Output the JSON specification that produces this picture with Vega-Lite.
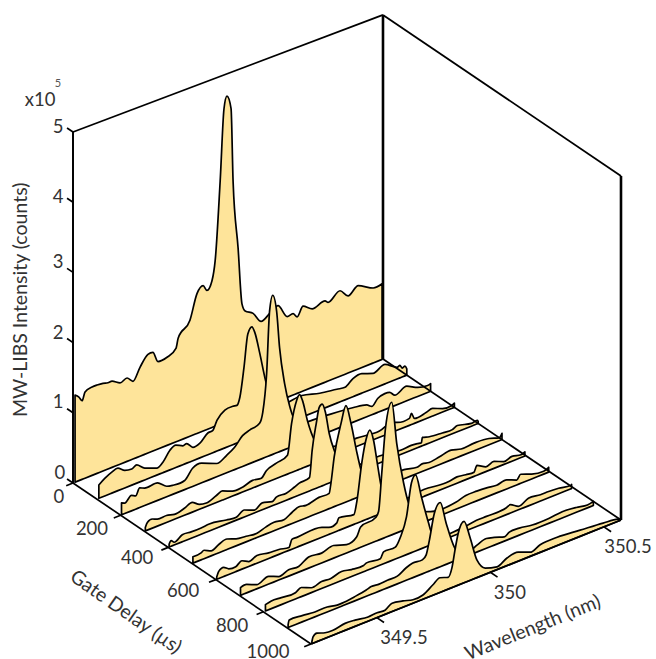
{"$schema":"https://vega.github.io/schema/vega-lite/v6.json","width":656,"height":659,"autosize":{"type":"none"},"padding":0,"background":"white","config":{"view":{"stroke":null}},
"datasets":{
"spectra":[
{"d":0,"w":349.219,"i":1.24},{"d":0,"w":349.236,"i":1.19},{"d":0,"w":349.25,"i":1.12},{"d":0,"w":349.263,"i":1.23},{"d":0,"w":349.294,"i":1.26},{"d":0,"w":349.316,"i":1.26},{"d":0,"w":349.342,"i":1.25},{"d":0,"w":349.364,"i":1.23},{"d":0,"w":349.382,"i":1.23},{"d":0,"w":349.417,"i":1.16},{"d":0,"w":349.448,"i":1.19},{"d":0,"w":349.474,"i":1.11},{"d":0,"w":349.505,"i":1.27},{"d":0,"w":349.54,"i":1.41},{"d":0,"w":349.562,"i":1.41},{"d":0,"w":349.584,"i":1.25},{"d":0,"w":349.624,"i":1.26},{"d":0,"w":349.664,"i":1.34},{"d":0,"w":349.673,"i":1.47},{"d":0,"w":349.725,"i":1.66},{"d":0,"w":349.756,"i":2.0},{"d":0,"w":349.783,"i":2.08},{"d":0,"w":349.8,"i":1.99},{"d":0,"w":349.822,"i":2.1},{"d":0,"w":349.836,"i":2.37},{"d":0,"w":349.858,"i":3.48},{"d":0,"w":349.875,"i":4.5},{"d":0,"w":349.888,"i":4.66},{"d":0,"w":349.906,"i":4.46},{"d":0,"w":349.915,"i":3.4},{"d":0,"w":349.937,"i":2.42},{"d":0,"w":349.954,"i":1.6},{"d":0,"w":349.968,"i":1.48},{"d":0,"w":350.003,"i":1.4},{"d":0,"w":350.038,"i":1.24},{"d":0,"w":350.078,"i":1.31},{"d":0,"w":350.113,"i":1.37},{"d":0,"w":350.153,"i":1.16},{"d":0,"w":350.179,"i":1.17},{"d":0,"w":350.197,"i":1.1},{"d":0,"w":350.223,"i":1.22},{"d":0,"w":350.263,"i":1.13},{"d":0,"w":350.32,"i":1.17},{"d":0,"w":350.333,"i":1.13},{"d":0,"w":350.386,"i":1.23},{"d":0,"w":350.421,"i":1.11},{"d":0,"w":350.466,"i":1.2},{"d":0,"w":350.532,"i":1.08},{"d":0,"w":350.571,"i":1.09},
{"d":100,"w":349.219,"i":0.19},{"d":100,"w":349.245,"i":0.25},{"d":100,"w":349.276,"i":0.3},{"d":100,"w":349.303,"i":0.32},{"d":100,"w":349.333,"i":0.25},{"d":100,"w":349.364,"i":0.23},{"d":100,"w":349.386,"i":0.26},{"d":100,"w":349.421,"i":0.17},{"d":100,"w":349.474,"i":0.1},{"d":100,"w":349.501,"i":0.15},{"d":100,"w":349.532,"i":0.28},{"d":100,"w":349.558,"i":0.32},{"d":100,"w":349.589,"i":0.27},{"d":100,"w":349.606,"i":0.28},{"d":100,"w":349.633,"i":0.19},{"d":100,"w":349.664,"i":0.21},{"d":100,"w":349.699,"i":0.31},{"d":100,"w":349.721,"i":0.32},{"d":100,"w":349.739,"i":0.44},{"d":100,"w":349.774,"i":0.54},{"d":100,"w":349.809,"i":0.55},{"d":100,"w":349.827,"i":0.54},{"d":100,"w":349.84,"i":0.64},{"d":100,"w":349.858,"i":1.04},{"d":100,"w":349.875,"i":1.5},{"d":100,"w":349.893,"i":1.58},{"d":100,"w":349.906,"i":1.48},{"d":100,"w":349.928,"i":1.15},{"d":100,"w":349.95,"i":0.78},{"d":100,"w":349.981,"i":0.41},{"d":100,"w":350.016,"i":0.3},{"d":100,"w":350.113,"i":0.31},{"d":100,"w":350.192,"i":0.24},{"d":100,"w":350.267,"i":0.2},{"d":100,"w":350.303,"i":0.18},{"d":100,"w":350.338,"i":0.26},{"d":100,"w":350.377,"i":0.28},{"d":100,"w":350.426,"i":0.22},{"d":100,"w":350.479,"i":0.28},{"d":100,"w":350.532,"i":0.17},{"d":100,"w":350.545,"i":0.18},{"d":100,"w":350.554,"i":0.13},{"d":100,"w":350.567,"i":0.14},{"d":100,"w":350.575,"i":0.09},
{"d":200,"w":349.214,"i":0.17},{"d":200,"w":349.228,"i":0.15},{"d":200,"w":349.258,"i":0.22},{"d":200,"w":349.276,"i":0.19},{"d":200,"w":349.294,"i":0.28},{"d":200,"w":349.316,"i":0.25},{"d":200,"w":349.373,"i":0.25},{"d":200,"w":349.413,"i":0.15},{"d":200,"w":349.439,"i":0.13},{"d":200,"w":349.492,"i":0.13},{"d":200,"w":349.527,"i":0.26},{"d":200,"w":349.567,"i":0.28},{"d":200,"w":349.633,"i":0.19},{"d":200,"w":349.677,"i":0.25},{"d":200,"w":349.712,"i":0.32},{"d":200,"w":349.747,"i":0.44},{"d":200,"w":349.778,"i":0.48},{"d":200,"w":349.822,"i":0.52},{"d":200,"w":349.836,"i":0.66},{"d":200,"w":349.853,"i":1.19},{"d":200,"w":349.866,"i":2.07},{"d":200,"w":349.88,"i":2.28},{"d":200,"w":349.897,"i":2.03},{"d":200,"w":349.91,"i":1.49},{"d":200,"w":349.932,"i":0.95},{"d":200,"w":349.954,"i":0.6},{"d":200,"w":349.968,"i":0.44},{"d":200,"w":349.999,"i":0.29},{"d":200,"w":350.087,"i":0.26},{"d":200,"w":350.232,"i":0.21},{"d":200,"w":350.294,"i":0.17},{"d":200,"w":350.316,"i":0.12},{"d":200,"w":350.342,"i":0.2},{"d":200,"w":350.373,"i":0.23},{"d":200,"w":350.395,"i":0.22},{"d":200,"w":350.417,"i":0.15},{"d":200,"w":350.47,"i":0.21},{"d":200,"w":350.518,"i":0.13},{"d":200,"w":350.562,"i":0.1},{"d":200,"w":350.575,"i":0.11},
{"d":300,"w":349.214,"i":0.05},{"d":300,"w":349.223,"i":0.11},{"d":300,"w":349.245,"i":0.13},{"d":300,"w":349.267,"i":0.1},{"d":300,"w":349.307,"i":0.1},{"d":300,"w":349.342,"i":0.07},{"d":300,"w":349.386,"i":0.1},{"d":300,"w":349.421,"i":0.14},{"d":300,"w":349.452,"i":0.07},{"d":300,"w":349.483,"i":0.05},{"d":300,"w":349.527,"i":0.1},{"d":300,"w":349.554,"i":0.13},{"d":300,"w":349.598,"i":0.07},{"d":300,"w":349.642,"i":0.07},{"d":300,"w":349.686,"i":0.11},{"d":300,"w":349.725,"i":0.09},{"d":300,"w":349.747,"i":0.17},{"d":300,"w":349.791,"i":0.22},{"d":300,"w":349.84,"i":0.27},{"d":300,"w":349.858,"i":0.7},{"d":300,"w":349.88,"i":1.0},{"d":300,"w":349.893,"i":1.07},{"d":300,"w":349.906,"i":0.97},{"d":300,"w":349.928,"i":0.65},{"d":300,"w":349.959,"i":0.33},{"d":300,"w":349.99,"i":0.19},{"d":300,"w":350.069,"i":0.11},{"d":300,"w":350.144,"i":0.12},{"d":300,"w":350.245,"i":0.09},{"d":300,"w":350.303,"i":0.14},{"d":300,"w":350.325,"i":0.11},{"d":300,"w":350.377,"i":0.1},{"d":300,"w":350.386,"i":0.16},{"d":300,"w":350.399,"i":0.07},{"d":300,"w":350.452,"i":0.09},{"d":300,"w":350.479,"i":0.11},{"d":300,"w":350.523,"i":0.05},{"d":300,"w":350.562,"i":0.04},{"d":300,"w":350.575,"i":0.06},
{"d":400,"w":349.214,"i":0.04},{"d":400,"w":349.223,"i":0.08},{"d":400,"w":349.236,"i":0.04},{"d":400,"w":349.272,"i":0.1},{"d":400,"w":349.311,"i":0.09},{"d":400,"w":349.355,"i":0.09},{"d":400,"w":349.391,"i":0.1},{"d":400,"w":349.466,"i":0.06},{"d":400,"w":349.51,"i":0.04},{"d":400,"w":349.545,"i":0.1},{"d":400,"w":349.589,"i":0.04},{"d":400,"w":349.624,"i":0.1},{"d":400,"w":349.668,"i":0.06},{"d":400,"w":349.686,"i":0.1},{"d":400,"w":349.73,"i":0.1},{"d":400,"w":349.765,"i":0.14},{"d":400,"w":349.787,"i":0.17},{"d":400,"w":349.832,"i":0.19},{"d":400,"w":349.844,"i":0.57},{"d":400,"w":349.862,"i":0.93},{"d":400,"w":349.875,"i":1.14},{"d":400,"w":349.888,"i":1.17},{"d":400,"w":349.902,"i":1.04},{"d":400,"w":349.919,"i":0.71},{"d":400,"w":349.946,"i":0.39},{"d":400,"w":349.977,"i":0.11},{"d":400,"w":350.051,"i":0.09},{"d":400,"w":350.14,"i":0.1},{"d":400,"w":350.236,"i":0.06},{"d":400,"w":350.28,"i":0.07},{"d":400,"w":350.307,"i":0.06},{"d":400,"w":350.325,"i":0.05},{"d":400,"w":350.329,"i":0.12},{"d":400,"w":350.36,"i":0.09},{"d":400,"w":350.417,"i":0.07},{"d":400,"w":350.461,"i":0.06},{"d":400,"w":350.483,"i":0.09},{"d":400,"w":350.545,"i":0.04},{"d":400,"w":350.571,"i":0.05},{"d":400,"w":350.575,"i":0.03},
{"d":500,"w":349.214,"i":0.09},{"d":500,"w":349.25,"i":0.1},{"d":500,"w":349.263,"i":0.12},{"d":500,"w":349.294,"i":0.07},{"d":500,"w":349.329,"i":0.12},{"d":500,"w":349.364,"i":0.15},{"d":500,"w":349.404,"i":0.1},{"d":500,"w":349.448,"i":0.08},{"d":500,"w":349.496,"i":0.06},{"d":500,"w":349.536,"i":0.1},{"d":500,"w":349.571,"i":0.12},{"d":500,"w":349.615,"i":0.1},{"d":500,"w":349.651,"i":0.16},{"d":500,"w":349.681,"i":0.2},{"d":500,"w":349.712,"i":0.18},{"d":500,"w":349.769,"i":0.22},{"d":500,"w":349.814,"i":0.22},{"d":500,"w":349.822,"i":0.36},{"d":500,"w":349.836,"i":0.71},{"d":500,"w":349.866,"i":1.15},{"d":500,"w":349.888,"i":1.38},{"d":500,"w":349.91,"i":1.1},{"d":500,"w":349.937,"i":0.63},{"d":500,"w":349.963,"i":0.28},{"d":500,"w":349.999,"i":0.14},{"d":500,"w":350.078,"i":0.11},{"d":500,"w":350.144,"i":0.13},{"d":500,"w":350.201,"i":0.09},{"d":500,"w":350.223,"i":0.11},{"d":500,"w":350.254,"i":0.09},{"d":500,"w":350.298,"i":0.11},{"d":500,"w":350.351,"i":0.14},{"d":500,"w":350.395,"i":0.1},{"d":500,"w":350.452,"i":0.11},{"d":500,"w":350.518,"i":0.09},{"d":500,"w":350.562,"i":0.04},{"d":500,"w":350.575,"i":0.09},
{"d":600,"w":349.214,"i":0.03},{"d":600,"w":349.223,"i":0.1},{"d":600,"w":349.245,"i":0.13},{"d":600,"w":349.267,"i":0.08},{"d":600,"w":349.298,"i":0.07},{"d":600,"w":349.325,"i":0.12},{"d":600,"w":349.355,"i":0.07},{"d":600,"w":349.391,"i":0.11},{"d":600,"w":349.443,"i":0.08},{"d":600,"w":349.488,"i":0.07},{"d":600,"w":349.532,"i":0.04},{"d":600,"w":349.545,"i":0.14},{"d":600,"w":349.567,"i":0.14},{"d":600,"w":349.677,"i":0.14},{"d":600,"w":349.708,"i":0.1},{"d":600,"w":349.743,"i":0.12},{"d":600,"w":349.752,"i":0.18},{"d":600,"w":349.818,"i":0.14},{"d":600,"w":349.831,"i":0.31},{"d":600,"w":349.853,"i":0.84},{"d":600,"w":349.871,"i":1.14},{"d":600,"w":349.888,"i":1.26},{"d":600,"w":349.906,"i":1.07},{"d":600,"w":349.919,"i":0.79},{"d":600,"w":349.937,"i":0.41},{"d":600,"w":349.954,"i":0.18},{"d":600,"w":349.994,"i":0.08},{"d":600,"w":350.126,"i":0.1},{"d":600,"w":350.236,"i":0.07},{"d":600,"w":350.272,"i":0.09},{"d":600,"w":350.311,"i":0.07},{"d":600,"w":350.347,"i":0.06},{"d":600,"w":350.36,"i":0.14},{"d":600,"w":350.399,"i":0.07},{"d":600,"w":350.435,"i":0.1},{"d":600,"w":350.479,"i":0.04},{"d":600,"w":350.514,"i":0.07},{"d":600,"w":350.554,"i":0.04},{"d":600,"w":350.571,"i":0.06},
{"d":700,"w":349.214,"i":0.11},{"d":700,"w":349.241,"i":0.12},{"d":700,"w":349.285,"i":0.06},{"d":700,"w":349.338,"i":0.11},{"d":700,"w":349.382,"i":0.05},{"d":700,"w":349.426,"i":0.09},{"d":700,"w":349.47,"i":0.08},{"d":700,"w":349.514,"i":0.16},{"d":700,"w":349.571,"i":0.14},{"d":700,"w":349.624,"i":0.18},{"d":700,"w":349.681,"i":0.12},{"d":700,"w":349.725,"i":0.17},{"d":700,"w":349.743,"i":0.29},{"d":700,"w":349.809,"i":0.34},{"d":700,"w":349.822,"i":0.41},{"d":700,"w":349.836,"i":0.94},{"d":700,"w":349.853,"i":1.58},{"d":700,"w":349.88,"i":1.9},{"d":700,"w":349.902,"i":1.28},{"d":700,"w":349.932,"i":0.68},{"d":700,"w":349.954,"i":0.36},{"d":700,"w":349.981,"i":0.2},{"d":700,"w":350.051,"i":0.11},{"d":700,"w":350.162,"i":0.1},{"d":700,"w":350.206,"i":0.14},{"d":700,"w":350.254,"i":0.14},{"d":700,"w":350.298,"i":0.13},{"d":700,"w":350.342,"i":0.11},{"d":700,"w":350.386,"i":0.13},{"d":700,"w":350.43,"i":0.07},{"d":700,"w":350.448,"i":0.13},{"d":700,"w":350.496,"i":0.07},{"d":700,"w":350.549,"i":0.04},{"d":700,"w":350.571,"i":0.07},
{"d":800,"w":349.219,"i":0.09},{"d":800,"w":349.245,"i":0.11},{"d":800,"w":349.289,"i":0.1},{"d":800,"w":349.351,"i":0.09},{"d":800,"w":349.377,"i":0.13},{"d":800,"w":349.421,"i":0.07},{"d":800,"w":349.466,"i":0.1},{"d":800,"w":349.505,"i":0.09},{"d":800,"w":349.554,"i":0.13},{"d":800,"w":349.598,"i":0.1},{"d":800,"w":349.651,"i":0.09},{"d":800,"w":349.664,"i":0.11},{"d":800,"w":349.725,"i":0.09},{"d":800,"w":349.739,"i":0.17},{"d":800,"w":349.791,"i":0.17},{"d":800,"w":349.814,"i":0.29},{"d":800,"w":349.84,"i":0.54},{"d":800,"w":349.862,"i":1.0},{"d":800,"w":349.88,"i":1.09},{"d":800,"w":349.906,"i":0.74},{"d":800,"w":349.937,"i":0.33},{"d":800,"w":349.95,"i":0.18},{"d":800,"w":349.981,"i":0.07},{"d":800,"w":350.069,"i":0.06},{"d":800,"w":350.157,"i":0.09},{"d":800,"w":350.192,"i":0.09},{"d":800,"w":350.28,"i":0.1},{"d":800,"w":350.298,"i":0.12},{"d":800,"w":350.333,"i":0.05},{"d":800,"w":350.377,"i":0.11},{"d":800,"w":350.43,"i":0.09},{"d":800,"w":350.466,"i":0.09},{"d":800,"w":350.51,"i":0.08},{"d":800,"w":350.562,"i":0.05},{"d":800,"w":350.567,"i":0.06},
{"d":900,"w":349.214,"i":0.04},{"d":900,"w":349.219,"i":0.1},{"d":900,"w":349.276,"i":0.09},{"d":900,"w":349.329,"i":0.07},{"d":900,"w":349.386,"i":0.07},{"d":900,"w":349.43,"i":0.04},{"d":900,"w":349.452,"i":0.04},{"d":900,"w":349.505,"i":0.06},{"d":900,"w":349.558,"i":0.09},{"d":900,"w":349.58,"i":0.11},{"d":900,"w":349.615,"i":0.1},{"d":900,"w":349.651,"i":0.11},{"d":900,"w":349.695,"i":0.11},{"d":900,"w":349.734,"i":0.18},{"d":900,"w":349.761,"i":0.21},{"d":900,"w":349.805,"i":0.2},{"d":900,"w":349.822,"i":0.25},{"d":900,"w":349.836,"i":0.44},{"d":900,"w":349.858,"i":0.8},{"d":900,"w":349.884,"i":0.92},{"d":900,"w":349.91,"i":0.59},{"d":900,"w":349.946,"i":0.2},{"d":900,"w":349.968,"i":0.07},{"d":900,"w":350.012,"i":0.05},{"d":900,"w":350.047,"i":0.1},{"d":900,"w":350.087,"i":0.14},{"d":900,"w":350.122,"i":0.11},{"d":900,"w":350.166,"i":0.06},{"d":900,"w":350.188,"i":0.1},{"d":900,"w":350.232,"i":0.1},{"d":900,"w":350.289,"i":0.07},{"d":900,"w":350.364,"i":0.07},{"d":900,"w":350.421,"i":0.09},{"d":900,"w":350.483,"i":0.07},{"d":900,"w":350.532,"i":0.04},{"d":900,"w":350.558,"i":0.06},
{"d":1000,"w":349.214,"i":0.03},{"d":1000,"w":349.219,"i":0.09},{"d":1000,"w":349.236,"i":0.12},{"d":1000,"w":349.272,"i":0.08},{"d":1000,"w":349.307,"i":0.07},{"d":1000,"w":349.36,"i":0.1},{"d":1000,"w":349.404,"i":0.09},{"d":1000,"w":349.461,"i":0.06},{"d":1000,"w":349.501,"i":0.07},{"d":1000,"w":349.536,"i":0.06},{"d":1000,"w":349.567,"i":0.12},{"d":1000,"w":349.615,"i":0.09},{"d":1000,"w":349.659,"i":0.05},{"d":1000,"w":349.703,"i":0.06},{"d":1000,"w":349.747,"i":0.15},{"d":1000,"w":349.778,"i":0.21},{"d":1000,"w":349.814,"i":0.17},{"d":1000,"w":349.831,"i":0.29},{"d":1000,"w":349.844,"i":0.52},{"d":1000,"w":349.858,"i":0.74},{"d":1000,"w":349.884,"i":0.88},{"d":1000,"w":349.91,"i":0.62},{"d":1000,"w":349.941,"i":0.25},{"d":1000,"w":349.977,"i":0.09},{"d":1000,"w":350.029,"i":0.04},{"d":1000,"w":350.073,"i":0.11},{"d":1000,"w":350.122,"i":0.13},{"d":1000,"w":350.175,"i":0.06},{"d":1000,"w":350.219,"i":0.11},{"d":1000,"w":350.294,"i":0.12},{"d":1000,"w":350.395,"i":0.09},{"d":1000,"w":350.496,"i":0.06},{"d":1000,"w":350.562,"i":0.03},{"d":1000,"w":350.571,"i":0.02}
],
"walls":[
{"s":"a","w":349.21,"d":0,"i":0},{"s":"a","w":349.21,"d":0,"i":5},
{"s":"b","w":349.21,"d":0,"i":5},{"s":"b","w":350.575,"d":0,"i":4.96},
{"s":"c","w":350.575,"d":0,"i":4.96},{"s":"c","w":350.575,"d":1000,"i":4.96}
],
"thick":[
{"s":"a","w":350.575,"d":0,"i":0},{"s":"a","w":350.575,"d":0,"i":4.96},
{"s":"b","w":350.575,"d":1000,"i":0},{"s":"b","w":350.575,"d":1000,"i":4.96}
],
"edges":[
{"s":"a","w":349.21,"d":0,"i":0},{"s":"a","w":349.21,"d":1000,"i":0},
{"s":"b","w":349.21,"d":1000,"i":0},{"s":"b","w":350.575,"d":1000,"i":0},
{"s":"c","w":350.575,"d":0,"i":0},{"s":"c","w":350.575,"d":1000,"i":0},
{"s":"d","w":349.21,"d":0,"i":0},{"s":"d","w":349.21,"d":0,"i":5},
{"s":"t0","w":349.21,"d":0,"i":0},{"s":"t0","w":349.18,"d":0,"i":0},
{"s":"t200","w":349.21,"d":200,"i":0},{"s":"t200","w":349.18,"d":200,"i":0},
{"s":"t400","w":349.21,"d":400,"i":0},{"s":"t400","w":349.18,"d":400,"i":0},
{"s":"t600","w":349.21,"d":600,"i":0},{"s":"t600","w":349.18,"d":600,"i":0},
{"s":"t800","w":349.21,"d":800,"i":0},{"s":"t800","w":349.18,"d":800,"i":0},
{"s":"t1000","w":349.21,"d":1000,"i":0},{"s":"t1000","w":349.18,"d":1000,"i":0},
{"s":"u1","w":349.5,"d":1000,"i":0},{"s":"u1","w":349.5,"d":1030,"i":0},
{"s":"u2","w":350,"d":1000,"i":0},{"s":"u2","w":350,"d":1030,"i":0},
{"s":"u3","w":350.5,"d":1000,"i":0},{"s":"u3","w":350.5,"d":1030,"i":0},
{"s":"z0","w":349.21,"d":0,"i":0},{"s":"z0","w":349.21,"d":-25,"i":0},
{"s":"z1","w":349.21,"d":0,"i":1},{"s":"z1","w":349.21,"d":-25,"i":1},
{"s":"z2","w":349.21,"d":0,"i":2},{"s":"z2","w":349.21,"d":-25,"i":2},
{"s":"z3","w":349.21,"d":0,"i":3},{"s":"z3","w":349.21,"d":-25,"i":3},
{"s":"z4","w":349.21,"d":0,"i":4},{"s":"z4","w":349.21,"d":-25,"i":4},
{"s":"z5","w":349.21,"d":0,"i":5},{"s":"z5","w":349.21,"d":-25,"i":5}
],
"labels":[
{"t":"5","w":349.21,"d":-63,"i":4.93},{"t":"4","w":349.21,"d":-63,"i":3.93},{"t":"3","w":349.21,"d":-63,"i":3.0},{"t":"2","w":349.21,"d":-63,"i":1.99},{"t":"1","w":349.21,"d":-63,"i":1.01},{"t":"0","w":349.21,"d":-55,"i":0.01},
{"t":"0","w":349.148,"d":0,"i":-0.12},{"t":"200","w":349.084,"d":200,"i":-0.03},{"t":"400","w":349.073,"d":400,"i":0.03},{"t":"600","w":349.066,"d":600,"i":0.02},{"t":"800","w":349.072,"d":800,"i":-0.02},{"t":"1000","w":349.021,"d":1000,"i":0.13},
{"t":"349.5","w":349.5,"d":1114,"i":-0.03},{"t":"350","w":350,"d":1082,"i":-0.11},{"t":"350.5","w":350.5,"d":1101,"i":-0.05},
{"t":"x10","w":349.065,"d":0,"i":5.63}
]
},
"encoding":{
"x":{"field":"px","type":"quantitative","scale":{"domain":[0,656],"nice":false,"zero":false},"axis":null},
"y":{"field":"py","type":"quantitative","scale":{"domain":[659,0],"nice":false,"zero":false},"axis":null}
},
"layer":[
{"data":{"name":"walls"},"transform":[{"calculate":"datum.w-349.21","as":"W"},{"calculate":"73+227.1*datum.W+0.238*datum.d","as":"px"},{"calculate":"483-90.8*datum.W+0.161*datum.d-datum.i*(70.2-0.6*datum.W)","as":"py"}],
"mark":{"type":"line","stroke":"#000","strokeWidth":1.8},"encoding":{"detail":{"field":"s"}}},
{"data":{"name":"thick"},"transform":[{"calculate":"datum.w-349.21","as":"W"},{"calculate":"73+227.1*datum.W+0.238*datum.d","as":"px"},{"calculate":"483-90.8*datum.W+0.161*datum.d-datum.i*(70.2-0.6*datum.W)","as":"py"}],
"mark":{"type":"line","stroke":"#000","strokeWidth":2.6},"encoding":{"detail":{"field":"s"}}},
{"data":{"name":"spectra"},"transform":[{"calculate":"datum.w-349.21","as":"W"},{"calculate":"73+227.1*datum.W+0.238*datum.d","as":"px"},{"calculate":"483-90.8*datum.W+0.161*datum.d-datum.i*(70.2-0.6*datum.W)","as":"py"},{"calculate":"483-90.8*datum.W+0.161*datum.d","as":"py0"}],
"mark":{"type":"area","interpolate":"monotone","fill":"#FEE49A","fillOpacity":1,"stroke":"#000","strokeWidth":1.7,"strokeJoin":"round"},
"encoding":{"detail":{"field":"d"},"y2":{"field":"py0"}}},
{"data":{"name":"edges"},"transform":[{"calculate":"datum.w-349.21","as":"W"},{"calculate":"73+227.1*datum.W+0.238*datum.d","as":"px"},{"calculate":"483-90.8*datum.W+0.161*datum.d-datum.i*(70.2-0.6*datum.W)","as":"py"}],
"mark":{"type":"line","stroke":"#000","strokeWidth":1.7},"encoding":{"detail":{"field":"s"}}},
{"data":{"name":"labels"},"transform":[{"calculate":"datum.w-349.21","as":"W"},{"calculate":"73+227.1*datum.W+0.238*datum.d","as":"px"},{"calculate":"483-90.8*datum.W+0.161*datum.d-datum.i*(70.2-0.6*datum.W)","as":"py"}],
"mark":{"type":"text","font":"Lato","fontSize":18.5,"fill":"#333","align":"center","baseline":"middle"},"encoding":{"text":{"field":"t"}}},
{"data":{"values":[{"t":"5","w":349.144,"d":0,"i":5.77}]},"transform":[{"calculate":"datum.w-349.21","as":"W"},{"calculate":"73+227.1*datum.W+0.238*datum.d","as":"px"},{"calculate":"483-90.8*datum.W+0.161*datum.d-datum.i*(70.2-0.6*datum.W)","as":"py"}],
"mark":{"type":"text","font":"Lato","fontSize":11,"fill":"#555","align":"center","baseline":"middle"},"encoding":{"text":{"field":"t"}}},
{"data":{"values":[{"t":"MW-LIBS Intensity (counts)","w":348.981,"d":0,"i":2.9}]},"transform":[{"calculate":"datum.w-349.21","as":"W"},{"calculate":"73+227.1*datum.W+0.238*datum.d","as":"px"},{"calculate":"483-90.8*datum.W+0.161*datum.d-datum.i*(70.2-0.6*datum.W)","as":"py"}],
"mark":{"type":"text","font":"Lato","fontSize":19.5,"fill":"#333","align":"center","baseline":"middle","angle":270},"encoding":{"text":{"field":"t"}}},
{"data":{"values":[{"t":"Gate Delay (µs)","w":348.813,"d":600,"i":0.05}]},"transform":[{"calculate":"datum.w-349.21","as":"W"},{"calculate":"73+227.1*datum.W+0.238*datum.d","as":"px"},{"calculate":"483-90.8*datum.W+0.161*datum.d-datum.i*(70.2-0.6*datum.W)","as":"py"}],
"mark":{"type":"text","font":"Lato","fontSize":19.5,"fill":"#333","align":"center","baseline":"middle","angle":35},"encoding":{"text":{"field":"t"}}},
{"data":{"values":[{"t":"Wavelength (nm)","w":350.03,"d":1150,"i":-0.49}]},"transform":[{"calculate":"datum.w-349.21","as":"W"},{"calculate":"73+227.1*datum.W+0.238*datum.d","as":"px"},{"calculate":"483-90.8*datum.W+0.161*datum.d-datum.i*(70.2-0.6*datum.W)","as":"py"}],
"mark":{"type":"text","font":"Lato","fontSize":19.5,"fill":"#333","align":"center","baseline":"middle","angle":338},"encoding":{"text":{"field":"t"}}}
]}
